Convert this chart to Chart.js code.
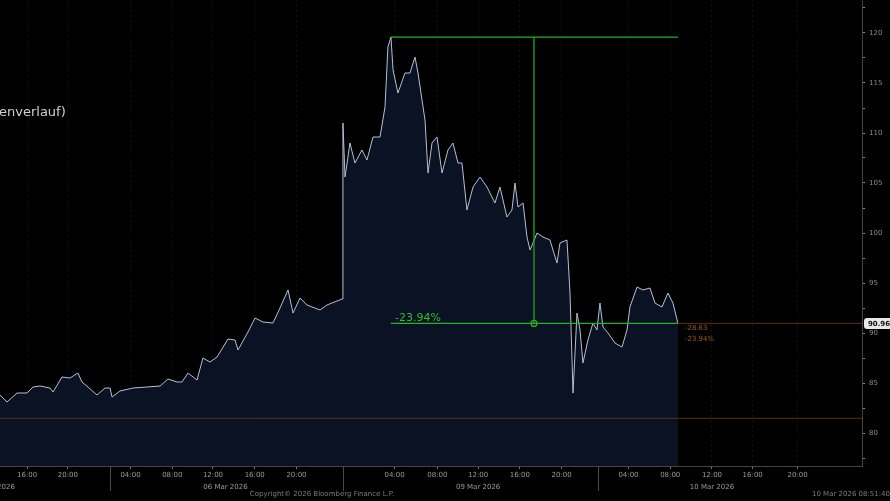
<!DOCTYPE html>
<html>
<head>
<meta charset="utf-8">
<script src="https://cdn.jsdelivr.net/npm/chart.js@4"></script>
<style>
  html, body { margin: 0; padding: 0; background: #000; overflow: hidden; }
  #wrap { position: relative; width: 890px; height: 501px; }
</style>
</head>
<body>
<div id="wrap"><canvas id="priceChart"></canvas></div>
<script>
// x = compressed trading hours (Bloomberg squeezes overnight / weekend gaps)
const priceHours = [0, 0.67, 1.63, 2.59, 3.16, 3.83, 4.79, 5.08, 5.94, 6.70, 7.47, 7.85, 8.43, 9.29, 10.06, 10.54,
    10.73, 11.49, 12.74, 14.08, 15.33, 16.09, 16.95, 17.43, 18.01, 18.87, 19.44, 20.11, 20.79, 21.84, 22.51,
    22.80, 23.75, 24.43, 25.19, 26.15, 26.82, 27.59, 28.07, 28.74, 29.41, 30.65, 31.32, 32.76,
    32.85, 33.05, 33.52, 34.00, 34.67, 35.15, 35.73, 36.40, 36.88, 37.16, 37.45, 37.65, 38.12, 38.79, 39.27,
    39.75, 40.04, 40.71, 41.00, 41.38, 41.86, 42.34, 42.91, 43.39, 43.87, 44.25, 44.73, 45.31, 45.98, 46.65,
    47.41, 47.89, 48.56, 49.04, 49.33, 49.62, 50.10, 50.48, 50.77, 51.44, 52.01, 52.68, 53.35, 53.64, 54.31,
    54.60, 54.89, 55.27, 55.56, 55.84, 56.32, 56.80, 57.18, 57.47, 57.76, 58.24, 58.91, 59.58, 60.06, 60.34,
    61.02, 61.59, 62.26, 62.74, 63.41, 63.98, 64.46, 64.94];
const prices = [83.8, 83.1, 84.0, 84.0, 84.6, 84.7, 84.5, 84.1, 85.6, 85.5, 86.0, 85.1, 84.6, 83.8, 84.5, 84.5,
    83.6, 84.2, 84.5, 84.6, 84.7, 85.4, 85.1, 85.1, 86.0, 85.3, 87.5, 87.1, 87.6, 89.4, 89.3,
    88.3, 90.1, 91.5, 91.1, 91.0, 92.5, 94.3, 92.0, 93.5, 92.8, 92.3, 92.8, 93.4,
    111.0, 105.6, 109.0, 107.0, 108.3, 107.3, 109.6, 109.6, 112.6, 118.6, 119.59, 116.3, 114.0, 116.0, 116.0,
    117.6, 116.0, 111.3, 106.0, 109.0, 109.6, 106.0, 108.3, 109.0, 107.0, 107.0, 102.3, 104.6, 105.6, 104.6,
    103.0, 104.6, 101.6, 102.3, 105.0, 102.6, 103.0, 99.6, 98.3, 100.0, 99.6, 99.3, 97.0, 99.0, 99.3,
    94.0, 84.0, 92.0, 90.3, 87.0, 89.3, 91.0, 90.3, 93.0, 90.6, 90.0, 89.0, 88.6, 90.3, 92.6,
    94.6, 94.3, 94.5, 93.0, 92.6, 94.0, 93.0, 90.96];

const xTickHours = [2.6, 6.5, 12.5, 16.5, 20.4, 24.4, 28.4, 37.8, 41.9, 45.8, 49.8, 53.8, 60.2, 64.2, 68.2, 72.1, 76.4];
const xTickLabels = ['16:00', '20:00', '04:00', '08:00', '12:00', '16:00', '20:00', '04:00', '08:00', '12:00',
    '16:00', '20:00', '04:00', '08:00', '12:00', '16:00', '20:00'];
const daySepHours = [10.54, 32.85, 57.28];
const dayLabels = ['05 Mar 2026', '06 Mar 2026', '09 Mar 2026', '10 Mar 2026'];
const dayLabelHours = [-0.7, 21.6, 45.8, 68.2];
const yTicks = [77.5, 80, 82.5, 85, 87.5, 90, 92.5, 95, 97.5, 100, 102.5, 105, 107.5, 110, 112.5, 115, 117.5, 120, 122.5];

// measuring tool: high of the move to last price
const measureStart = 37.45, measureEnd = 64.94, measureMid = 51.15;
const measureHigh = 119.59, lastPrice = 90.96;
const refLevel = 81.47;
const xMax = 82.57;

const overlay = {
    id: 'overlay',
    afterDraw(c) {
        const ctx = c.ctx, xs = c.scales.x, ys = c.scales.y, area = c.chartArea;
        ctx.save();
        // day separators + day labels
        ctx.strokeStyle = '#4a4a4a';
        ctx.lineWidth = 1;
        daySepHours.forEach(h => {
            const px = Math.round(xs.getPixelForValue(h)) + 0.5;
            ctx.beginPath();
            ctx.moveTo(px, area.bottom);
            ctx.lineTo(px, area.bottom + 25);
            ctx.stroke();
        });
        ctx.fillStyle = '#9a9a9a';
        ctx.font = '7px "DejaVu Sans"';
        ctx.textAlign = 'center';
        ctx.textBaseline = 'middle';
        dayLabels.forEach((d, i) => ctx.fillText(d, xs.getPixelForValue(dayLabelHours[i]), area.bottom + 21));

        // footer
        ctx.fillStyle = '#7c7c7c';
        ctx.fillText('Copyright\u00a9 2026 Bloomberg Finance L.P.', 322, 494);
        ctx.textAlign = 'right';
        ctx.fillText('10 Mar 2026 08:51:40', 890, 494);

        // title (cut off at left edge)
        ctx.textAlign = 'left';
        ctx.fillStyle = '#d0d0d0';
        ctx.font = '13px "DejaVu Sans"';
        ctx.fillText('enverlauf)', -1, 113);

        // measurement label
        const yLow = ys.getPixelForValue(lastPrice);
        ctx.fillStyle = '#2fbf2f';
        ctx.font = '11px "DejaVu Sans"';
        ctx.textBaseline = 'alphabetic';
        ctx.fillText('-' + ((1 - lastPrice / measureHigh) * 100).toFixed(2) + '%', xs.getPixelForValue(measureStart) + 4, yLow - 2);

        // change readout next to last price
        ctx.fillStyle = '#9a5a1c';
        ctx.font = '7px "DejaVu Sans"';
        ctx.textBaseline = 'middle';
        const xEnd = xs.getPixelForValue(measureEnd);
        ctx.fillText((lastPrice - measureHigh).toFixed(2), xEnd + 7, yLow + 5);
        ctx.fillText('-' + ((1 - lastPrice / measureHigh) * 100).toFixed(2) + '%', xEnd + 7, yLow + 16);

        // last price tag on the axis
        const tx = area.right + 2, tw = 28, th = 11;
        ctx.fillStyle = '#e8e8e8';
        ctx.beginPath();
        ctx.roundRect(tx, yLow - th / 2, tw, th, 3);
        ctx.fill();
        ctx.fillStyle = '#111';
        ctx.font = 'bold 7px "DejaVu Sans"';
        ctx.textAlign = 'center';
        ctx.fillText(lastPrice.toFixed(2), tx + tw / 2 + 1, yLow + 0.5);
        ctx.restore();
    }
};

const green = '#23b323';
new Chart(document.getElementById('priceChart'), {
    type: 'line',
    data: {
        datasets: [
            {
                data: priceHours.map((h, i) => ({ x: h, y: prices[i] })),
                borderColor: '#b4c0d4',
                borderWidth: 1,
                backgroundColor: 'rgb(10,18,36)',
                fill: 'start',
                pointRadius: 0,
                tension: 0,
                order: 3,
            },
            {
                data: [{ x: 0, y: refLevel }, { x: xMax, y: refLevel }],
                borderColor: 'rgba(120,62,12,0.75)',
                borderWidth: 1,
                pointRadius: 0,
                order: 2,
            },
            {
                data: [{ x: measureEnd, y: lastPrice }, { x: xMax, y: lastPrice }],
                borderColor: 'rgba(120,62,12,0.75)',
                borderWidth: 1,
                pointRadius: 0,
                order: 2,
            },
            {
                data: [{ x: measureStart, y: measureHigh }, { x: measureEnd, y: measureHigh }],
                borderColor: green,
                borderWidth: 1.2,
                pointRadius: 0,
                order: 1,
            },
            {
                data: [{ x: measureStart, y: lastPrice }, { x: measureEnd, y: lastPrice }],
                borderColor: green,
                borderWidth: 1.2,
                pointRadius: 0,
                order: 1,
            },
            {
                data: [{ x: measureMid, y: measureHigh }, { x: measureMid, y: lastPrice }],
                borderColor: green,
                borderWidth: 1.2,
                pointRadius: [0, 3],
                pointBorderColor: green,
                pointBackgroundColor: 'rgba(0,0,0,0)',
                pointBorderWidth: 1.2,
                order: 1,
            },
        ],
    },
    options: {
        responsive: true,
        maintainAspectRatio: false,
        animation: false,
        layout: { padding: 0, autoPadding: false },
        plugins: { legend: { display: false }, tooltip: { enabled: false } },
        scales: {
            x: {
                type: 'linear',
                min: 0,
                max: xMax,
                afterBuildTicks: s => { s.ticks = xTickHours.map(v => ({ value: v })); },
                afterFit: s => { s.height = 35; s.paddingLeft = 0; s.paddingRight = 0; },
                ticks: {
                    autoSkip: false,
                    maxRotation: 0,
                    color: '#9a9a9a',
                    font: { family: 'DejaVu Sans', size: 7 },
                    padding: 2,
                    callback: (v, i) => xTickLabels[i],
                },
                grid: { color: 'rgba(255,255,255,0.07)', tickLength: 3, tickColor: '#777' },
                border: { display: true, color: '#444', dash: [2, 3] },
            },
            y: {
                position: 'right',
                min: 76.7,
                max: 123.3,
                afterBuildTicks: s => { s.ticks = yTicks.map(v => ({ value: v })); },
                afterFit: s => { s.width = 28; s.paddingTop = 0; s.paddingBottom = 0; },
                ticks: {
                    color: '#8a8a8a',
                    font: { family: 'DejaVu Sans', size: 7 },
                    padding: 4,
                    callback: v => (v % 5 === 0 ? v : ''),
                },
                grid: { drawOnChartArea: false, tickLength: 3, tickColor: '#888' },
                border: { display: true, color: '#444' },
            },
        },
    },
    plugins: [overlay],
});
</script>
</body>
</html>
